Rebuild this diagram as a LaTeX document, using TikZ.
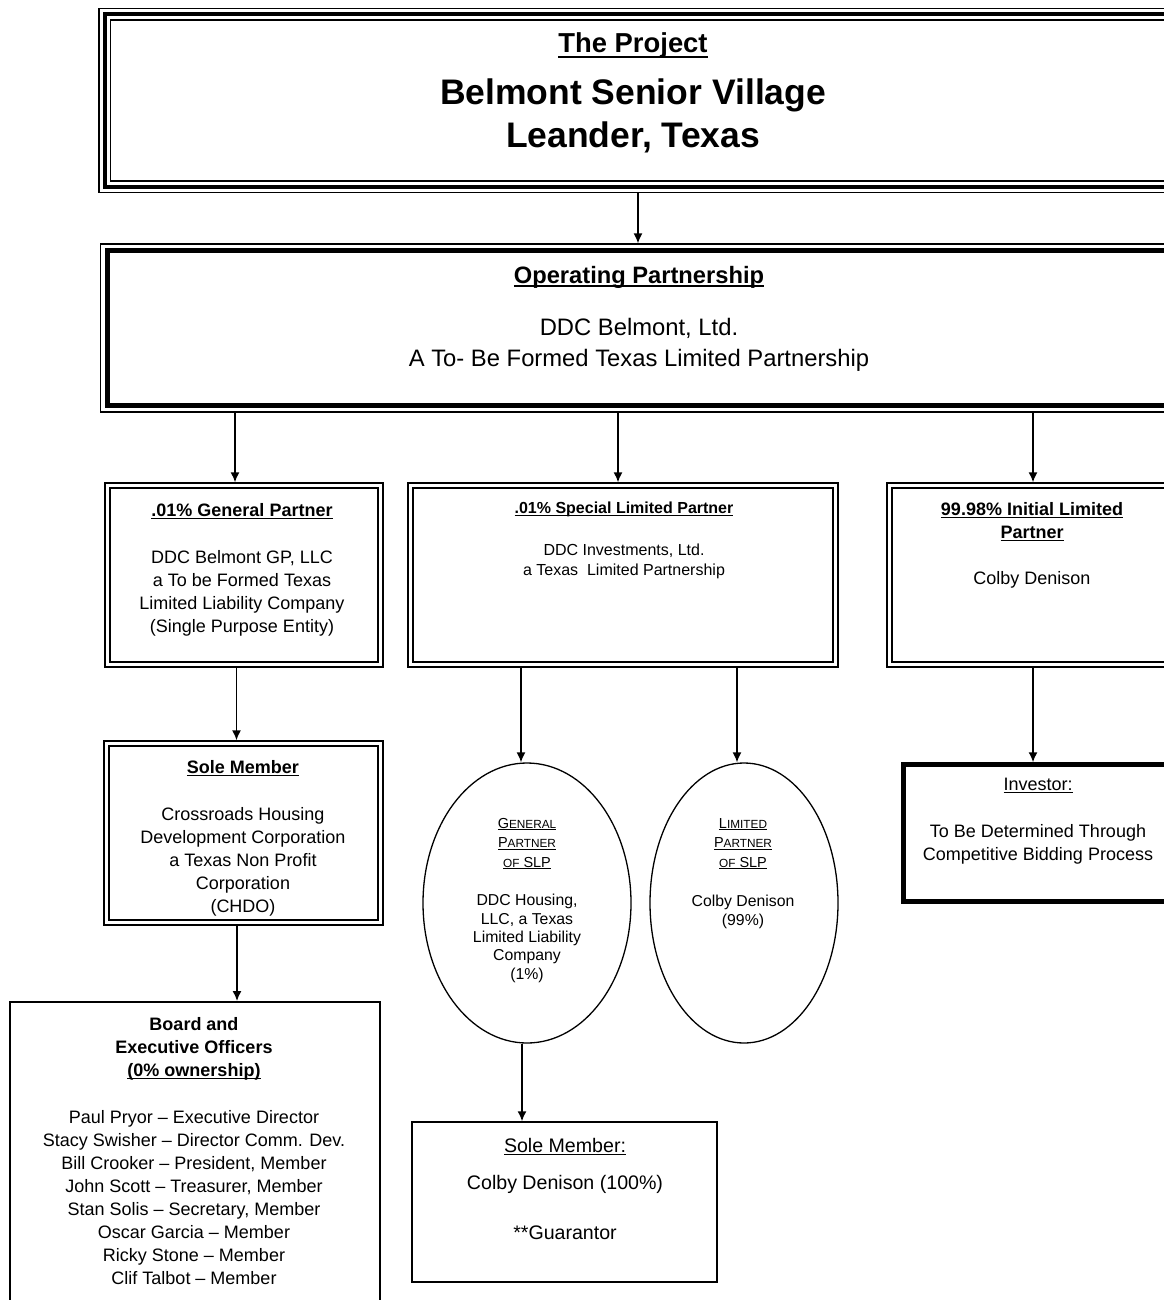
\documentclass[tikz,border=0pt]{standalone}
\usepackage{fontspec}
\setmainfont{Liberation Sans}
\usetikzlibrary{arrows.meta,shapes.geometric}
\newcommand{\fs}[2]{\fontsize{#1}{#2}\selectfont}
\newcommand{\smc}[1]{{\fontsize{11.8}{11.8}\selectfont #1}}
\newcommand{\ul}[1]{\setbox0\hbox{#1}\leavevmode\rlap{\vrule height -0.1em depth 0.17em width \wd0}\box0}
\begin{document}
\begin{tikzpicture}[x=1pt,y=-1pt,
  every node/.style={inner sep=0pt},
  t/.style={anchor=base, align=center, font=\fs{18}{23}},
  arr/.style={line width=1.5pt, -{Latex[length=10pt,width=9pt]}},
  thickbox/.style={draw, line width=4pt, outer sep=6.1pt},
  opbox/.style={draw, line width=5pt, outer sep=7.1pt},
  dblbox/.style={draw, double, double distance=3.6pt, line width=1.4pt, outer sep=3.2pt},
  thinbox/.style={draw, line width=1.5pt},
  heavybox/.style={draw, line width=4.5pt},
  oval/.style={draw, ellipse, line width=1.3pt},
]
\useasboundingbox (0,0) rectangle (1163,1300);
\fill[white] (0,0) rectangle (1163,1300);

% The Project
\node[thickbox, minimum width=1067.5pt, minimum height=173pt] (proj) at (638.25,100.5) {};
\draw[line width=1.2pt] ([xshift=0.6pt,yshift=-0.6pt]proj.north west) rectangle ([xshift=-0.6pt,yshift=0.6pt]proj.south east);
\draw[line width=1.2pt] ([xshift=12.1pt,yshift=-12.1pt]proj.north west) rectangle ([xshift=-12.1pt,yshift=12.1pt]proj.south east);
\node[t, font=\bfseries\fs{27.4}{30}] (tproj1) at (633,53) {\ul{The Project}};
\node[t, font=\bfseries\fs{35.5}{43}] (tproj2) at (633,148) {Belmont Senior Village\\Leander, Texas};

% Operating Partnership
\node[opbox, minimum width=1068pt, minimum height=155pt] (op) at (641,328) {};
\draw[line width=1.2pt] ([xshift=0.6pt,yshift=-0.6pt]op.north west) rectangle ([xshift=-0.6pt,yshift=0.6pt]op.south east);
\node[t, font=\bfseries\fs{23.7}{30}] (top1) at (639,283) {\ul{Operating Partnership}};
\node[t, font=\fs{23.8}{31}] (top2) at (639,366) {DDC Belmont, Ltd.\\A To- Be Formed Texas Limited Partnership};

% General Partner
\node[dblbox, minimum width=273pt, minimum height=179pt] (gp) at (244,575) {};
\node[t, font=\bfseries\fs{18}{23}] (tgp1) at (242,516) {\ul{.01\% General Partner}};
\node[t] (tgp2) at (242,632) {DDC Belmont GP, LLC\\a To be Formed Texas\\Limited Liability Company\\(Single Purpose Entity)};

% Special Limited Partner
\node[dblbox, minimum width=425pt, minimum height=179pt] (slp) at (623,575) {};
\node[t, font=\bfseries\fs{16}{20}] (tslp1) at (624,513) {\ul{.01\% Special Limited Partner}};
\node[t, font=\fs{16}{20}] (tslp2) at (624,575) {DDC Investments, Ltd.\\a Texas\ \ Limited Partnership};

% Initial Limited Partner
\node[dblbox, minimum width=290.5pt, minimum height=179pt] (ilp) at (1034.75,575) {};
\node[t, font=\bfseries\fs{18}{23}] (tilp1) at (1032,538) {\ul{99.98\% Initial Limited}\\\ul{Partner}};
\node[t] (tilp2) at (1032,584) {Colby Denison};

% Sole Member (CHDO)
\node[dblbox, minimum width=274pt, minimum height=179pt] (sm) at (243.5,833) {};
\node[t, font=\bfseries\fs{18}{23}] (tsm1) at (243,773) {\ul{Sole Member}};
\node[t] (tsm2) at (243,912) {Crossroads Housing\\Development Corporation\\a Texas Non Profit\\Corporation\\(CHDO)};

% Board
\node[draw, line width=2pt, minimum width=370pt, minimum height=310pt] (board) at (195,1157) {};
\node[t, font=\bfseries\fs{18}{23}] (tb1) at (194,1076) {Board and\\Executive Officers\\\ul{(0\% ownership)}};
\node[t] (tb2) at (194,1284) {Paul Pryor \textendash{} Executive Director\\Stacy Swisher \textendash{} Director Comm. Dev.\\Bill Crooker \textendash{} President, Member\\John Scott \textendash{} Treasurer, Member\\Stan Solis \textendash{} Secretary, Member\\Oscar Garcia \textendash{} Member\\Ricky Stone \textendash{} Member\\Clif Talbot \textendash{} Member};

% Ellipses
\node[oval, minimum width=208pt, minimum height=280pt] (e1) at (527,903) {};
\node[oval, minimum width=188pt, minimum height=280pt] (e2) at (744,903) {};
\node[t, font=\fs{14.5}{19.5}] (te1a) at (527,867) {\ul{G\smc{ENERAL}}\\\ul{P\smc{ARTNER}}\\\ul{\smc{OF} SLP}};
\node[t, font=\fs{15.8}{18.3}] (te1b) at (527,979) {DDC Housing,\\LLC, a Texas\\Limited Liability\\Company\\(1\%)};
\node[t, font=\fs{14.5}{19.5}] (te2a) at (743,867) {\ul{L\smc{IMITED}}\\\ul{P\smc{ARTNER}}\\\ul{\smc{OF} SLP}};
\node[t, font=\fs{15.8}{18.5}] (te2b) at (743,925) {Colby Denison\\(99\%)};

% Sole Member 2
\node[thinbox, minimum width=305pt, minimum height=160pt] (sm2) at (564.5,1202) {};
\node[t, font=\fs{19.6}{24}] (tsm2a) at (565,1152) {\ul{Sole Member:}};
\node[t, font=\fs{19.6}{24}] (tsm2b) at (565,1189) {Colby Denison (100\%)};
\node[t, font=\fs{19.6}{24}] (tsm2c) at (565,1239) {**Guarantor};

% Investor
\node[heavybox, minimum width=271.5pt, minimum height=137pt] (inv) at (1039.25,833) {};
\node[t] (tinv1) at (1038,790) {\ul{Investor:}};
\node[t] (tinv2) at (1038,860) {To Be Determined Through\\Competitive Bidding Process};

% Connectors
\draw[arr] (proj.south -| 638,0) -- (op.north -| 638,0);
\draw[arr] (op.south -| 235,0) -- (gp.north -| 235,0);
\draw[arr] (op.south -| 618,0) -- (slp.north -| 618,0);
\draw[arr] (op.south -| 1033,0) -- (ilp.north -| 1033,0);
\draw[arr] (gp.south -| 236.5,0) -- (sm.north -| 236.5,0);
\draw[arr] (sm.south -| 237,0) -- (board.north -| 237,0);
\draw[arr] (slp.south -| 521,0) -- (e1.north -| 521,0);
\draw[arr] (slp.south -| 737,0) -- (e2.north -| 737,0);
\draw[arr] (e1.south -| 522,0) -- (sm2.north -| 522,0);
\draw[arr] (ilp.south -| 1033,0) -- (inv.north -| 1033,0);
\end{tikzpicture}
\end{document}
